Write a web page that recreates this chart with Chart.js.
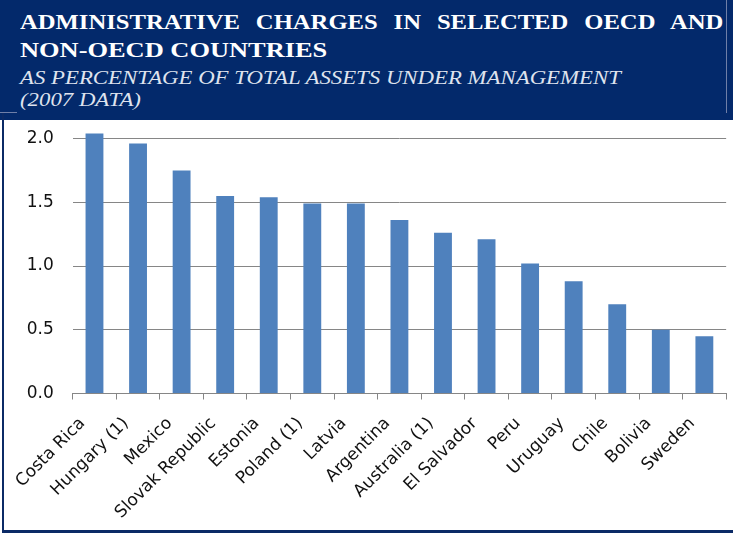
<!DOCTYPE html>
<html>
<head>
<meta charset="utf-8">
<script src="https://cdn.jsdelivr.net/npm/chart.js@4.4.1/dist/chart.umd.min.js"></script>
<style>
  html, body { margin:0; padding:0; background:#ffffff; }
  body { width:733px; height:533px; position:relative; overflow:hidden; }
  #hdr { position:absolute; left:0; top:0; width:733px; height:120px; background:#03296b; z-index:2; }
  .t { position:absolute; left:20px; color:#ffffff; font-family:"Liberation Serif","DejaVu Serif",serif; white-space:nowrap; transform:scaleX(1.2); transform-origin:0 0; }
  #l1 { top:8px; width:628px; font-weight:bold; font-size:22px; line-height:27.5px; text-align:justify; text-align-last:justify; transform:scaleX(1.12); }
  #l2 { top:35.5px; font-weight:bold; font-size:22px; line-height:27.5px; }
  #l3 { top:66.6px; font-style:italic; font-size:19px; line-height:22px; color:#dfe3ee; }
  #frameR { position:absolute; left:726px; top:0; width:1px; height:113px; background:#6f7fa8; }
  #frameB { position:absolute; left:0; top:112px; width:17px; height:1px; background:#6f7fa8; }
  #bl { position:absolute; left:2px; top:113px; width:2px; height:420px; background:#0b2a66; z-index:3; }
  #bb { position:absolute; left:2px; top:530px; width:731px; height:3px; background:#0b2a66; z-index:3; }
  #c { position:absolute; left:0; top:0; z-index:1; }
</style>
</head>
<body>
<div id="hdr">
  <div class="t" id="l1">ADMINISTRATIVE CHARGES IN SELECTED OECD AND</div>
  <div class="t" id="l2">NON-OECD COUNTRIES</div>
  <div class="t" id="l3">AS PERCENTAGE OF TOTAL ASSETS UNDER MANAGEMENT<br>(2007 DATA)</div>
  <div id="frameR"></div>
  <div id="frameB"></div>
</div>
<div id="bl"></div>
<div id="bb"></div>
<canvas id="c" width="733" height="533"></canvas>
<script>
const categories = ["Costa Rica", "Hungary (1)", "Mexico", "Slovak Republic", "Estonia", "Poland (1)", "Latvia", "Argentina", "Australia (1)", "El Salvador", "Peru", "Uruguay", "Chile", "Bolivia", "Sweden"];
const charges = [2.04, 1.96, 1.75, 1.55, 1.54, 1.49, 1.49, 1.36, 1.26, 1.21, 1.02, 0.88, 0.70, 0.50, 0.45];
const yTickValues = [0, 0.5, 1.0, 1.5, 2.0];

const tickFont = { family: "DejaVu Sans", size: 17 };
const gridColor = "#868686";

new Chart(document.getElementById("c"), {
  type: "bar",
  data: {
    labels: categories,
    datasets: [{
      data: charges,
      backgroundColor: "#4f81bd",
      borderWidth: 0,
      barPercentage: 0.41,
      categoryPercentage: 1.0
    }]
  },
  options: {
    responsive: false,
    animation: false,
    layout: { padding: { top: 125.75, right: 6.3, left: 0, bottom: 0 } },
    plugins: { legend: { display: false }, tooltip: { enabled: false } },
    scales: {
      x: {
        grid: { offset: true, drawOnChartArea: false, drawTicks: true, tickLength: 6, color: gridColor },
        border: { display: true, color: gridColor },
        ticks: { minRotation: 45, maxRotation: 45, autoSkip: false, font: tickFont, color: "#111111", padding: 14, labelOffset: -12 },
        afterFit: s => { s.height = 139.5; }
      },
      y: {
        min: 0,
        max: 2.1,
        afterBuildTicks: s => { s.ticks = yTickValues.map(v => ({ value: v })); },
        grid: { color: gridColor, drawTicks: false },
        border: { display: false },
        ticks: { font: tickFont, color: "#111111", padding: 19, callback: v => Number(v).toFixed(1) },
        afterFit: s => { s.width = 72.7; }
      }
    }
  }
});
</script>
</body>
</html>
